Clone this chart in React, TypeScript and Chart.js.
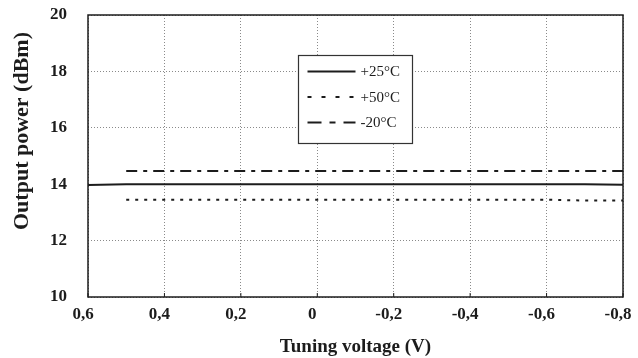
import React, { useEffect, useRef } from "react";
import { Chart, registerables } from "chart.js";

Chart.register(...registerables);

// Data
const voltages25 = [0.6, 0.5, 0.4, 0.3, 0.2, 0.1, 0, -0.1, -0.2, -0.3, -0.4, -0.5, -0.6, -0.7, -0.8];
const power25 = [13.97, 14.0, 14.0, 14.0, 14.0, 14.0, 14.0, 14.0, 14.0, 14.0, 14.0, 14.0, 14.0, 14.0, 13.98];
const voltages50 = [0.5, 0.4, 0.3, 0.2, 0.1, 0, -0.1, -0.2, -0.3, -0.4, -0.5, -0.6, -0.7, -0.8];
const power50 = [13.45, 13.45, 13.45, 13.45, 13.45, 13.45, 13.45, 13.45, 13.45, 13.45, 13.45, 13.45, 13.42, 13.42];
const voltagesM20 = [0.5, 0.4, 0.3, 0.2, 0.1, 0, -0.1, -0.2, -0.3, -0.4, -0.5, -0.6, -0.7, -0.8];
const powerM20 = [14.47, 14.47, 14.47, 14.47, 14.47, 14.47, 14.47, 14.47, 14.47, 14.47, 14.47, 14.47, 14.47, 14.47];
const seriesLabels = ["+25°C", "+50°C", "-20°C"];
const xAxisTitle = "Tuning voltage (V)";
const yAxisTitle = "Output power (dBm)";

const INK = "#1c1c1c";
const SERIF = "'Liberation Serif', 'Times New Roman', serif";
const dashes = [[], [3, 6], [11, 6, 4, 6]];
const legendDashes = [[], [4, 10], [14, 8, 6, 8]];

function fmtX(v: number): string {
  if (Math.abs(v) < 1e-9) return "0";
  return v.toFixed(1).replace(".", ",");
}

export default function App() {
  const ref = useRef<HTMLCanvasElement | null>(null);

  useEffect(() => {
    document.body.style.margin = "0";
    const canvas = ref.current;
    if (!canvas) return;

    const frameAndLegend = {
      id: "frameAndLegend",
      afterDatasetsDraw(chart: any) {
        const { ctx, chartArea } = chart;
        const { left, right, top, bottom } = chartArea;
        ctx.save();
        // plot frame
        ctx.strokeStyle = INK;
        ctx.lineWidth = 1.5;
        ctx.setLineDash([]);
        ctx.strokeRect(left, top, right - left, bottom - top);
        // small tick marks on the bottom axis
        const xs = chart.scales.x;
        ctx.lineWidth = 1;
        xs.ticks.forEach((t: any) => {
          const px = xs.getPixelForValue(t.value);
          ctx.beginPath();
          ctx.moveTo(px, bottom);
          ctx.lineTo(px, bottom - 4);
          ctx.stroke();
        });
        // legend box
        const bx = Math.round(xs.getPixelForValue(0.05)) + 0.5;
        const by = Math.round(chart.scales.y.getPixelForValue(18.58)) + 0.5;
        const bw = 114;
        const bh = 88;
        ctx.fillStyle = "#ffffff";
        ctx.fillRect(bx, by, bw, bh);
        ctx.strokeStyle = "#333";
        ctx.lineWidth = 1.2;
        ctx.strokeRect(bx, by, bw, bh);
        ctx.font = `15px ${SERIF}`;
        ctx.textBaseline = "middle";
        ctx.textAlign = "left";
        seriesLabels.forEach((lab, i) => {
          const ly = by + 16 + i * 25.5;
          ctx.strokeStyle = INK;
          ctx.lineWidth = 2;
          ctx.setLineDash(legendDashes[i]);
          ctx.beginPath();
          ctx.moveTo(bx + 9, ly);
          ctx.lineTo(bx + 57, ly);
          ctx.stroke();
          ctx.setLineDash([]);
          ctx.fillStyle = INK;
          ctx.fillText(lab, bx + 62, ly + 1);
        });
        // y-axis title
        ctx.save();
        ctx.translate(22, 131);
        ctx.rotate(-Math.PI / 2);
        ctx.font = `bold 22px ${SERIF}`;
        ctx.textAlign = "center";
        ctx.textBaseline = "middle";
        ctx.fillStyle = INK;
        ctx.fillText(yAxisTitle, 0, 0);
        ctx.restore();
        ctx.restore();
      },
    };

    const mk = (xs: number[], ys: number[]) => xs.map((x, i) => ({ x, y: ys[i] }));

    const chart = new Chart(canvas, {
      type: "line",
      data: {
        datasets: [
          { label: seriesLabels[0], data: mk(voltages25, power25), borderColor: INK, borderWidth: 2, pointRadius: 0, borderDash: dashes[0], tension: 0 },
          { label: seriesLabels[1], data: mk(voltages50, power50), borderColor: INK, borderWidth: 2, pointRadius: 0, borderDash: dashes[1], tension: 0 },
          { label: seriesLabels[2], data: mk(voltagesM20, powerM20), borderColor: INK, borderWidth: 2, pointRadius: 0, borderDash: dashes[2], tension: 0 },
        ],
      },
      options: {
        animation: false,
        responsive: false,
        layout: { padding: { top: 15, right: 15, left: 0, bottom: 0 } },
        plugins: { legend: { display: false }, tooltip: { enabled: false } },
        scales: {
          x: {
            type: "linear",
            reverse: true,
            min: -0.8,
            max: 0.6,
            afterFit: (s: any) => {
              s.height = 61;
              s.paddingLeft = 0;
              s.paddingRight = 0;
              s.paddingTop = 0;
              s.paddingBottom = 0;
            },
            ticks: {
              stepSize: 0.2,
              callback: (v: any) => fmtX(Number(v)),
              color: INK,
              font: { family: SERIF, size: 17, weight: "bold" },
              padding: 7,
              labelOffset: -5,
              maxRotation: 0,
            },
            grid: { color: "#8a8a8a", lineWidth: 1, drawTicks: false },
            border: { display: false, dash: [1, 2] },
            title: {
              display: true,
              text: xAxisTitle,
              color: INK,
              font: { family: SERIF, size: 19, weight: "bold" },
              padding: { top: 0, bottom: 0 },
            },
          },
          y: {
            min: 10,
            max: 20,
            afterFit: (s: any) => {
              s.width = 88;
              s.paddingLeft = 0;
              s.paddingRight = 0;
              s.paddingTop = 0;
              s.paddingBottom = 0;
            },
            ticks: {
              stepSize: 2,
              color: INK,
              font: { family: SERIF, size: 17, weight: "bold" },
              padding: 21,
            },
            grid: { color: "#8a8a8a", lineWidth: 1, drawTicks: false },
            border: { display: false, dash: [1, 2] },
            title: { display: false },
          },
        },
      },
      plugins: [frameAndLegend],
    } as any);

    return () => chart.destroy();
  }, []);

  return <canvas ref={ref} width={638} height={358} style={{ display: "block" }} />;
}
